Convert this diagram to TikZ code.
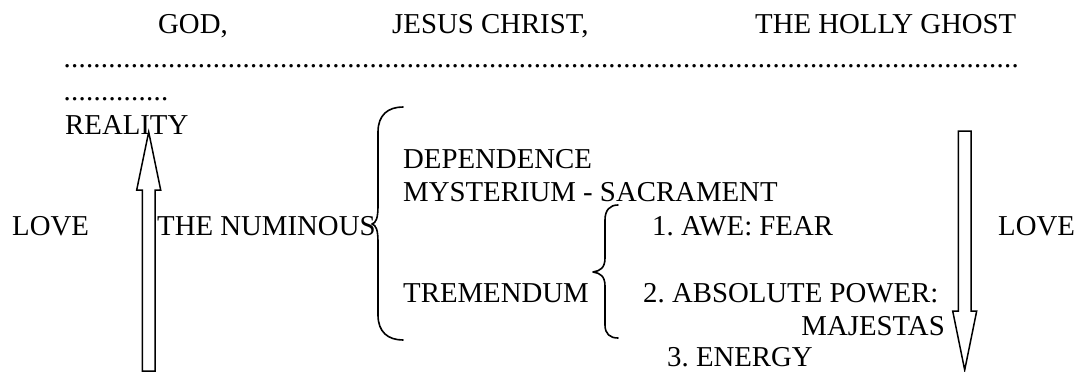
\documentclass[tikz,border=0pt]{standalone}
\usepackage{fontspec}
\setmainfont{Liberation Serif}
\frenchspacing
% a row of evenly spaced full stops, #1 dots wide
\newcommand{\dotsrow}[1]{\hbox to \dimexpr #1\dimexpr 7.46pt\relax + 0.5pt\relax{\xleaders\hbox to 7.46pt{\hss.\hss}\hfil}}
\tikzset{
  txt/.style={anchor=base west, inner sep=0pt, font=\fontsize{28.8}{34}\selectfont},
  txtr/.style={txt, anchor=base east},
  brace/.style={draw=black, line width=1.6pt, line cap=round, line join=round},
  blockarrow/.style={draw=black, fill=white, line width=1.5pt, line join=miter}
}
\begin{document}
\begin{tikzpicture}[x=1pt,y=-1pt]
\useasboundingbox (0,0) rectangle (1077,372);

% heading: the three persons
\node[txt] (god)   at (158,33) {GOD,};
\node[txt] (jesus) at (392,33) {JESUS CHRIST,};
\node[txt] (holly) at (755,33) {THE HOLLY GHOST};

% dotted rows
\node[txt] (dots1) at (63.3,67)  {\dotsrow{128}};
\node[txt] (dots2) at (63.3,100) {\dotsrow{14}};

% left column
\node[txt] (reality)  at (65,134)  {REALITY};
\node[txt] (loveL)    at (12,235)  {LOVE};
\node[txt] (numinous) at (157,235) {THE NUMINOUS};

% middle column
\node[txt] (dependence) at (403,168) {DEPENDENCE};
\node[txt] (mysterium)  at (403,201) {MYSTERIUM - SACRAMENT};
\node[txt] (tremendum)  at (403,302) {TREMENDUM};

% right column
\node[txt]  (awe)      at (652,235) {1. AWE: FEAR};
\node[txt]  (absolute) at (643,302) {2. ABSOLUTE POWER:};
\node[txtr] (majestas) at (945,335) {MAJESTAS};
\node[txt, text depth=0pt] (energy) at (667,366.5) {3. ENERGY};
\node[txt]  (loveR)    at (998,235) {LOVE};

% large brace grouping the numinous
\draw[brace] (403,107) .. controls (388,107) and (378,115) .. (378,132)
  -- (378,206) .. controls (378,218) and (376,223) .. (372,224)
  .. controls (376,225) and (378,230) .. (378,242)
  -- (378,315) .. controls (378,332) and (388,340) .. (403,340);

% small brace grouping the tremendum
\draw[brace] (618,205) .. controls (610,205) and (605,210) .. (605,220)
  -- (605,258) .. controls (605,268) and (600,271) .. (593,272)
  .. controls (600,273) and (605,276) .. (605,286)
  -- (605,325) .. controls (605,334) and (610,338) .. (618,338);

% upward block arrow under REALITY
\draw[blockarrow] (142.3,371) -- (142.3,190) -- (136.7,190) -- (148.7,132)
  -- (160.7,190) -- (155,190) -- (155,371) -- cycle;

% downward block arrow on the right
\draw[blockarrow] (958.3,131) -- (958.3,311) -- (952.7,311) -- (964.7,370)
  -- (976.7,311) -- (971,311) -- (971,131) -- cycle;
\end{tikzpicture}
\end{document}
